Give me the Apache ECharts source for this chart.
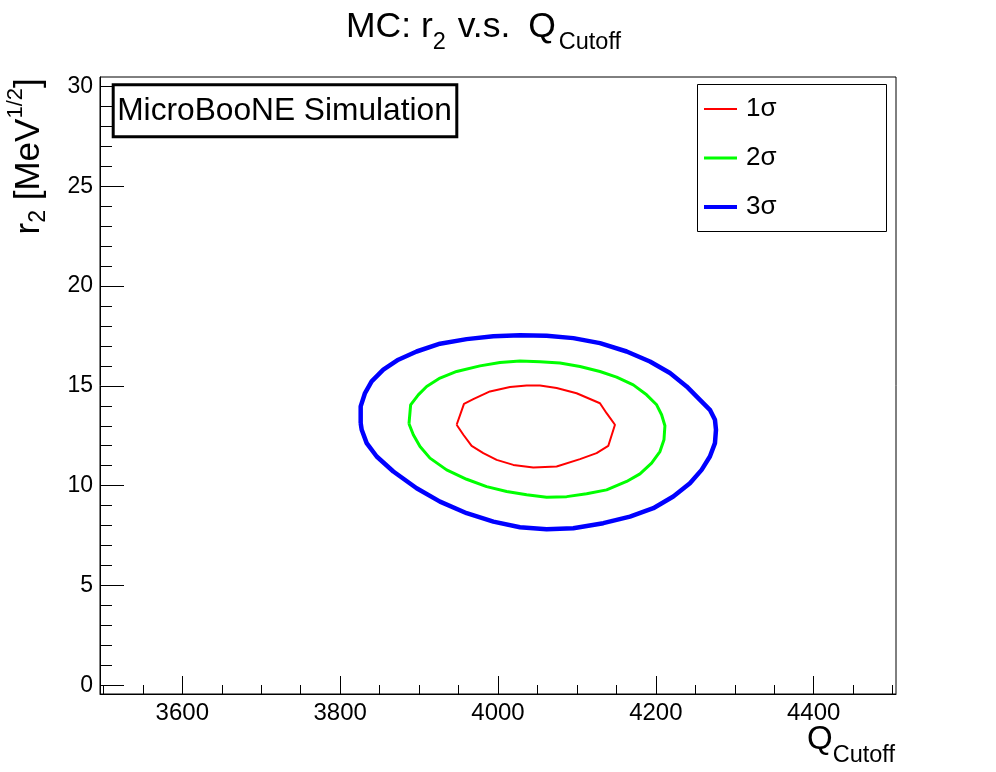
<!DOCTYPE html>
<html><head><meta charset="utf-8">
<script src="https://cdn.jsdelivr.net/npm/echarts@6/dist/echarts.min.js"></script>
<style>html,body{margin:0;padding:0;background:#fff}#c{width:996px;height:772px}</style>
</head><body><div id="c"></div>
<script>
const FONT = 'Liberation Sans, Arial, Helvetica, sans-serif';
const xMajorTicks = [3600, 3800, 4000, 4200, 4400];
const xMinorTicks = [3500, 3550, 3600, 3650, 3700, 3750, 3800, 3850, 3900, 3950, 4000, 4050, 4100, 4150, 4200, 4250, 4300, 4350, 4400, 4450, 4500];
const yMajorTicks = [0, 5, 10, 15, 20, 25, 30];
const yMinorTicks = [0, 1, 2, 3, 4, 5, 6, 7, 8, 9, 10, 11, 12, 13, 14, 15, 16, 17, 18, 19, 20, 21, 22, 23, 24, 25, 26, 27, 28, 29, 30];
const sigmaNames = ['1σ', '2σ', '3σ'];

const contour1sigma = [
  [3947.6, 13.05], [3956.9, 14.10], [3968.7, 14.33], [3989.8, 14.72], [4015.2, 14.94],
  [4036.3, 15.02], [4053.2, 15.02], [4074.3, 14.89], [4099.6, 14.63], [4129.2, 14.13],
  [4137.6, 13.63], [4148.2, 13.05], [4139.7, 11.99], [4124.9, 11.63], [4103.9, 11.33],
  [4074.3, 10.96], [4044.7, 10.91], [4019.4, 11.04], [3998.3, 11.29], [3981.4, 11.63],
  [3966.6, 11.99], [3956.1, 12.55], [3947.6, 13.05]
];
const contour2sigma = [
  [3887.2, 13.10], [3889.3, 14.05], [3899.0, 14.55], [3909.6, 14.97], [3926.5, 15.39],
  [3947.6, 15.72], [3977.2, 16.00], [4002.5, 16.17], [4027.8, 16.24], [4053.2, 16.21],
  [4078.5, 16.14], [4103.9, 15.97], [4129.2, 15.72], [4150.3, 15.44], [4171.4, 15.05],
  [4188.3, 14.55], [4201.0, 14.05], [4207.3, 13.55], [4211.5, 13.00], [4210.3, 12.30],
  [4205.2, 11.71], [4194.6, 11.13], [4179.9, 10.59], [4163.0, 10.21], [4137.6, 9.79],
  [4112.3, 9.59], [4087.0, 9.45], [4061.6, 9.42], [4036.3, 9.54], [4011.0, 9.71],
  [3985.6, 9.95], [3960.3, 10.32], [3934.9, 10.79], [3913.8, 11.38], [3901.2, 11.96],
  [3892.7, 12.55], [3887.2, 13.10]
];
const contour3sigma = [
  [3826.0, 13.13], [3826.0, 13.97], [3831.5, 14.64], [3839.9, 15.22], [3854.7, 15.81],
  [3873.7, 16.31], [3896.9, 16.72], [3926.5, 17.11], [3960.3, 17.34], [3994.1, 17.48],
  [4027.8, 17.53], [4061.6, 17.51], [4095.4, 17.39], [4129.2, 17.14], [4163.0, 16.72],
  [4192.5, 16.22], [4217.9, 15.64], [4239.0, 14.97], [4255.9, 14.30], [4268.5, 13.80],
  [4274.9, 13.30], [4276.2, 12.80], [4274.9, 12.13], [4268.5, 11.46], [4258.0, 10.79],
  [4243.2, 10.12], [4222.1, 9.46], [4196.8, 8.87], [4167.2, 8.45], [4133.4, 8.12],
  [4095.4, 7.87], [4061.6, 7.82], [4027.8, 7.92], [3994.1, 8.20], [3960.3, 8.62],
  [3926.5, 9.20], [3896.9, 9.87], [3867.4, 10.71], [3846.3, 11.46], [3833.6, 12.13],
  [3827.3, 12.80], [3826.0, 13.13]
];

const X_MIN = 3495.7, X_MAX = 4504.3, Y_MIN = -0.436, Y_MAX = 30.47;

const chart = echarts.init(document.getElementById('c'), null, {renderer: 'canvas'});

function axisDef(kind, ticks, len, labels, fs) {
  return {
    type: 'value',
    min: kind === 'x' ? X_MIN : Y_MIN,
    max: kind === 'x' ? X_MAX : Y_MAX,
    position: kind === 'x' ? 'bottom' : 'left',
    axisLine: {show: labels, onZero: false, lineStyle: {color: '#000', width: 1}},
    axisTick: {show: true, inside: true, length: len, customValues: ticks, lineStyle: {color: '#000', width: 1}},
    axisLabel: labels ? {show: true, customValues: ticks, fontSize: fs, color: '#000', fontFamily: FONT, margin: 7,
      formatter: v => String(v)} : {show: false},
    splitLine: {show: false}
  };
}

const colors = ['#ff0000', '#00ff00', '#0000ff'];
const widths = [2, 3, 4.5];
const legendIcons = ['path://M0,0H33V2H0Z', 'path://M0,0H33V3H0Z', 'path://M0,0H33V4H0Z'];
const contours = [contour1sigma, contour2sigma, contour3sigma];

chart.setOption({
  animation: false,
  backgroundColor: '#fff',
  grid: {left: 100, right: 100, top: 77, bottom: 78, show: true, borderColor: '#000', borderWidth: 1, backgroundColor: 'transparent'},
  xAxis: [axisDef('x', xMajorTicks, 18, true, 24), axisDef('x', xMinorTicks, 9, false)],
  yAxis: [axisDef('y', yMajorTicks, 24, true, 23), axisDef('y', yMinorTicks, 12, false)],
  legend: {
    data: sigmaNames.map((n, i) => ({name: n, icon: legendIcons[i]})),
    orient: 'vertical', left: 704, top: 96, padding: 0,
    itemWidth: 33, itemHeight: 26, itemGap: 23, selectedMode: false, z: 10,
    itemStyle: {borderWidth: 0},
    textStyle: {fontSize: 26, lineHeight: 26, color: '#000', fontFamily: FONT, padding: [0, 0, 0, 4]}
  },
  series: sigmaNames.map((n, i) => ({
    type: 'line', name: n, data: contours[i], xAxisIndex: 0, yAxisIndex: 0,
    symbol: 'none', showSymbol: false, smooth: false,
    lineStyle: {color: colors[i], width: widths[i]}, itemStyle: {color: colors[i]}
  })),
  graphic: [
    {type: 'rect', z: 5, shape: {x: 697.5, y: 84.5, width: 189, height: 147}, style: {fill: '#fff', stroke: '#000', lineWidth: 1}},
    {type: 'rect', z: 5, shape: {x: 113.2, y: 84.8, width: 343.6, height: 52}, style: {fill: '#fff', stroke: '#000', lineWidth: 3}},
    {type: 'text', z: 6, x: 284.5, y: 111, style: {text: 'MicroBooNE Simulation', fontSize: 31.7, fontFamily: FONT, fill: '#000', align: 'center', verticalAlign: 'middle'}},
    {type: 'text', z: 6, x: 346, y: 9.4, style: {
      text: '{m|MC: r}{s|2}{g| v.s.}{m| Q}{t|Cutoff}', align: 'left', verticalAlign: 'top', fill: '#000',
      rich: {
        m: {fontSize: 35.5, lineHeight: 35.5, fontFamily: FONT, verticalAlign: 'top', fill: '#000'},
        g: {fontSize: 35.5, lineHeight: 35.5, fontFamily: FONT, verticalAlign: 'top', padding: [0, 8, 0, 2], fill: '#000'},
        s: {fontSize: 23.5, lineHeight: 23.5, fontFamily: FONT, verticalAlign: 'top', padding: [21.5, 0, 0, 0], fill: '#000'},
        t: {fontSize: 23.5, lineHeight: 23.5, fontFamily: FONT, verticalAlign: 'top', padding: [21.5, 0, 0, 3], fill: '#000'}
      }}},
    {type: 'text', z: 6, x: 895, y: 723, style: {
      text: '{m|Q}{s|Cutoff}', align: 'right', verticalAlign: 'top', fill: '#000',
      rich: {
        m: {fontSize: 33, lineHeight: 33, fontFamily: FONT, verticalAlign: 'top', fill: '#000'},
        s: {fontSize: 23.5, lineHeight: 23.5, fontFamily: FONT, verticalAlign: 'top', padding: [20.5, 0, 0, 0], fill: '#000'}
      }}},
    {type: 'text', z: 6, x: 4.8, y: 78.3, rotation: Math.PI / 2, style: {
      text: '{m|r}{s|2}{m| [MeV}{p|1/2}{m|]}', align: 'right', verticalAlign: 'top', fill: '#000',
      rich: {
        m: {fontSize: 35, lineHeight: 35, fontFamily: FONT, verticalAlign: 'top', padding: [7.5, 0, 0, 0], fill: '#000'},
        s: {fontSize: 23, lineHeight: 23, fontFamily: FONT, verticalAlign: 'top', padding: [21.9, 0, 0, 0], fill: '#000'},
        p: {fontSize: 22, lineHeight: 22, fontFamily: FONT, verticalAlign: 'top', padding: [0, 0, 0, 0], fill: '#000'}
      }}}
  ]
});
</script>
</body></html>
